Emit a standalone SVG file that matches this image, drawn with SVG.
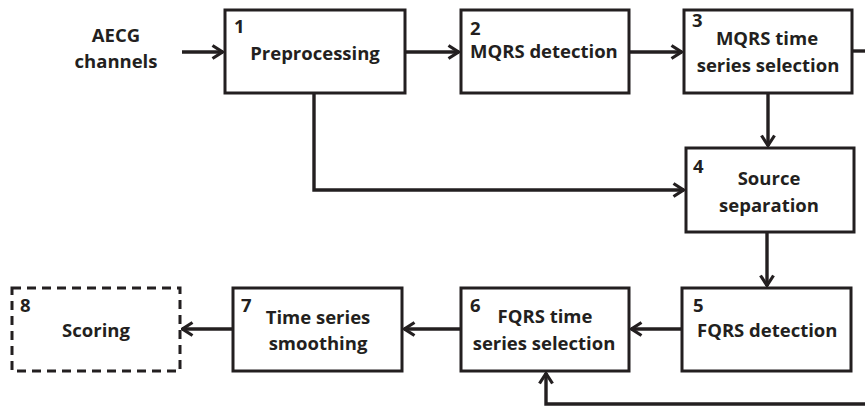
<svg xmlns="http://www.w3.org/2000/svg" width="865" height="408" viewBox="0 0 865 408">
<style>
.box{fill:#fff;stroke:#231f20;stroke-width:3}
.dash{fill:#fff;stroke:#231f20;stroke-width:3;stroke-dasharray:9,6}
.t{font-family:"Open Sans","Noto Sans","Liberation Sans",sans-serif;font-weight:700;font-size:18.5px;fill:#231f20}
.c{text-anchor:middle}
.ln{fill:none;stroke:#231f20;stroke-width:3.4}
</style>
<defs>
<marker id="ah" viewBox="0 0 13 16" refX="12" refY="8" markerWidth="13" markerHeight="16" markerUnits="userSpaceOnUse" orient="auto">
<path d="M1.5,1.5 L11.5,8 L1.5,14.5" fill="none" stroke="#231f20" stroke-width="3.2"/>
</marker>
</defs>
<g id="connectors">
<line class="ln" x1="182" y1="52" x2="223" y2="52" marker-end="url(#ah)"/>
<line class="ln" x1="405" y1="52" x2="459" y2="52" marker-end="url(#ah)"/>
<line class="ln" x1="629" y1="52" x2="682" y2="52" marker-end="url(#ah)"/>
<line class="ln" x1="852" y1="51" x2="865" y2="51"/>
<line class="ln" x1="768" y1="93" x2="768" y2="146" marker-end="url(#ah)"/>
<polyline class="ln" points="314,93 314,190 684,190" marker-end="url(#ah)"/>
<line class="ln" x1="767" y1="232" x2="767" y2="286" marker-end="url(#ah)"/>
<line class="ln" x1="682" y1="329" x2="631" y2="329" marker-end="url(#ah)"/>
<line class="ln" x1="461" y1="329" x2="404" y2="329" marker-end="url(#ah)"/>
<line class="ln" x1="233" y1="329" x2="182" y2="329" marker-end="url(#ah)"/>
<polyline class="ln" points="865,404 546,404 546,373" marker-end="url(#ah)"/>
</g>
<g id="input">
<text class="t c" x="116" y="42">AECG</text>
<text class="t c" x="116" y="68">channels</text>
</g>
<g id="n1">
<rect class="box" x="225" y="10" width="180" height="83"/>
<text class="t" x="234" y="33">1</text>
<text class="t c" x="315" y="60">Preprocessing</text>
</g>
<g id="n2">
<rect class="box" x="461" y="10" width="168" height="83"/>
<text class="t" x="470" y="35">2</text>
<text class="t" x="470" y="58">MQRS detection</text>
</g>
<g id="n3">
<rect class="box" x="684" y="10" width="168" height="83"/>
<text class="t" x="692" y="27">3</text>
<text class="t c" x="767" y="45">MQRS time</text>
<text class="t c" x="768" y="72">series selection</text>
</g>
<g id="n4">
<rect class="box" x="686" y="148" width="168" height="84"/>
<text class="t" x="693" y="173">4</text>
<text class="t c" x="769" y="185">Source</text>
<text class="t c" x="769" y="212">separation</text>
</g>
<g id="n5">
<rect class="box" x="682" y="288" width="169" height="83"/>
<text class="t" x="693" y="312">5</text>
<text class="t" x="697" y="337">FQRS detection</text>
</g>
<g id="n6">
<rect class="box" x="461" y="288" width="168" height="83"/>
<text class="t" x="470" y="312">6</text>
<text class="t c" x="545" y="323">FQRS time</text>
<text class="t c" x="544" y="350">series selection</text>
</g>
<g id="n7">
<rect class="box" x="233" y="288" width="169" height="83"/>
<text class="t" x="241" y="312">7</text>
<text class="t c" x="318" y="324">Time series</text>
<text class="t c" x="318" y="350">smoothing</text>
</g>
<g id="n8">
<rect class="dash" x="12" y="288" width="168" height="83"/>
<text class="t" x="20" y="312">8</text>
<text class="t c" x="96" y="337">Scoring</text>
</g>
</svg>
